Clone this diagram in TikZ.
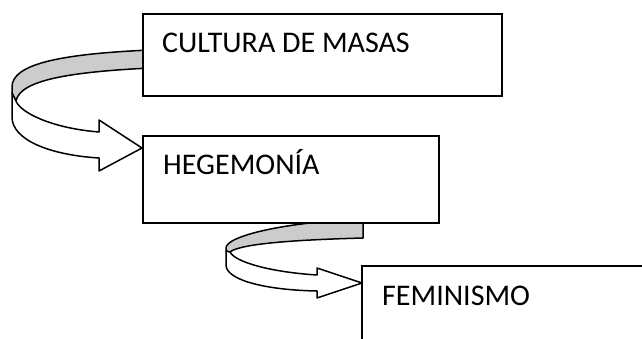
\documentclass[tikz,border=0pt]{standalone}
\usepackage{fontspec}
\setmainfont{Carlito}

\tikzset{
    box/.style={draw, line width=2pt, fill=white, anchor=north west, inner sep=0pt, outer sep=0pt},
    boxtext/.style={anchor=base west, inner sep=0pt, font=\fontsize{30}{36}\selectfont},
    band/.style={draw, line width=1.5pt, line join=round},
}

\begin{document}
\begin{tikzpicture}[x=1pt, y=-1pt]
    \clip (0,0) rectangle (642,339);
    \draw[band, fill=black!20] (12,87) .. controls (12,64) and (60,54) .. (150,50) -- (150,68)
        .. controls (70,72) and (20,80) .. (16,101) -- (12,93) -- cycle;
    \draw[band, fill=white] (16,101) .. controls (20,112) and (50,128) .. (99,132) -- (99,120)
        -- (142,148) -- (99,171) -- (99,158) .. controls (50,155) and (12,140) .. (12,117)
        -- (12,93) -- cycle;
    \draw[band, fill=black!20] (226,248) .. controls (226,236) and (285,222) .. (363,219) -- (363,238)
        .. controls (290,240) and (240,244) .. (230,252) -- (226,251) -- cycle;
    \draw[band, fill=white] (230,252) .. controls (235,262) and (270,272) .. (317,275) -- (317,268)
        -- (362,283) -- (317,298) -- (317,291) .. controls (265,290) and (226,280) .. (226,265)
        -- (226,251) -- cycle;
    \node[box, minimum width=359pt, minimum height=82pt] (masas) at (143,14) {};
    \node[box, minimum width=296pt, minimum height=87pt] (hegemonia) at (143,136) {};
    \node[box, minimum width=340pt, minimum height=120pt] (feminismo) at (362,266) {};
    \node[boxtext] (masastxt) at ([xshift=19pt, yshift=-39pt]masas.north west) {CULTURA DE MASAS};
    \node[boxtext] (hegemoniatxt) at ([xshift=20pt, yshift=-39pt]hegemonia.north west) {HEGEMONÍA};
    \node[boxtext] (feminismotxt) at ([xshift=20pt, yshift=-39pt]feminismo.north west) {FEMINISMO};
\end{tikzpicture}
\end{document}
